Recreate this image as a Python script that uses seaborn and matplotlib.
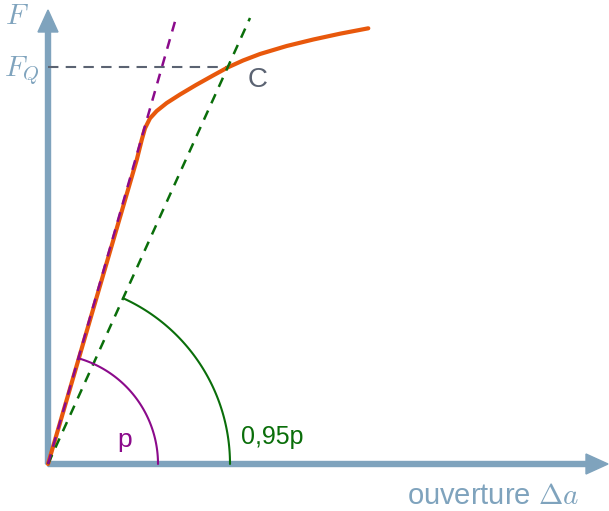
import numpy as np
import seaborn as sns
import matplotlib.pyplot as plt

sns.set_theme(style="white")
plt.rcParams['font.family'] = ['Liberation Sans', 'DejaVu Sans']
plt.rcParams['mathtext.fontset'] = 'cm'

# courbe force / ouverture (coordonnées relatives à l'origine)
curve_x = [0, 88.7, 93.7, 97, 102, 108.7, 118.7, 132, 148, 165, 180,
           195, 212, 238.7, 265.3, 292, 320.3]
curve_y = [0, 304, 324, 335.7, 345.7, 353, 361, 369.5, 379, 388.5, 396.7,
           403.5, 410, 418, 424.5, 430.3, 435.7]

# droites : pente initiale p et pente 0,95p
slope_p_x = [0, 128]
slope_p_y = [0, 446]
slope_95_x = [0, 202]
slope_95_y = [0, 446]

# niveau F_Q et point C
fq_level = 397
c_x = 180

# rayons des arcs d'angle
arc_p_r = 110
arc_95_r = 182

axis_col = '#7fa3bd'
orange = '#e8580c'
purple = '#8b0a8b'
green = '#0a6e0a'
gray = '#5b6372'

fig = plt.figure(figsize=(6.09, 5.11), dpi=100)
ax = fig.add_axes([0, 0, 1, 1])
ax.set_xlim(-48, 561)
ax.set_ylim(-47, 464)
ax.axis('off')

# axes avec flèches
ax.arrow(0, 0, 0, 432, width=5, head_width=20, head_length=22,
         color=axis_col, length_includes_head=False, zorder=1)
ax.arrow(0, 0, 538, 0, width=5, head_width=20, head_length=22,
         color=axis_col, length_includes_head=False, zorder=1)

# ligne F_Q
ax.plot([0, c_x], [fq_level, fq_level], color=gray, lw=1.5, dashes=(5, 3.5))

# courbe
sns.lineplot(x=curve_x, y=curve_y, ax=ax, color=orange, lw=3, sort=False)
ax.lines[-1].set_solid_capstyle('round')
ax.lines[-1].set_solid_joinstyle('round')

# droites pointillées (au-dessus de la courbe)
sns.lineplot(x=slope_95_x, y=slope_95_y, ax=ax, color=green, lw=1.8, sort=False)
ax.lines[-1].set_dashes((4, 3.2))
sns.lineplot(x=slope_p_x, y=slope_p_y, ax=ax, color=purple, lw=1.8, sort=False)
ax.lines[-1].set_dashes((4, 3.2))

# arcs
t = np.linspace(0, np.arctan2(slope_p_y[1], slope_p_x[1]), 100)
ax.plot(arc_p_r * np.cos(t), arc_p_r * np.sin(t), color=purple, lw=1.5)
t = np.linspace(0, np.arctan2(slope_95_y[1], slope_95_x[1]), 100)
ax.plot(arc_95_r * np.cos(t), arc_95_r * np.sin(t), color=green, lw=1.5)

# textes
ax.text(-31, 440, r'$F$', color=axis_col, fontsize=21, ha='center', va='baseline')
ax.text(-26, 388, r'$F_Q$', color=axis_col, fontsize=21, ha='center', va='baseline')
ax.text(210, 384, 'C', color=gray, fontsize=20, ha='center', va='center')
ax.text(77, 24, 'p', color=purple, fontsize=19, ha='center', va='center')
ax.text(224, 27, '0,95p', color=green, fontsize=18, ha='center', va='center')
ax.text(445, -32, r'ouverture $\Delta a$', color=axis_col, fontsize=21,
        ha='center', va='center')

fig.savefig('out.png', dpi=100)
